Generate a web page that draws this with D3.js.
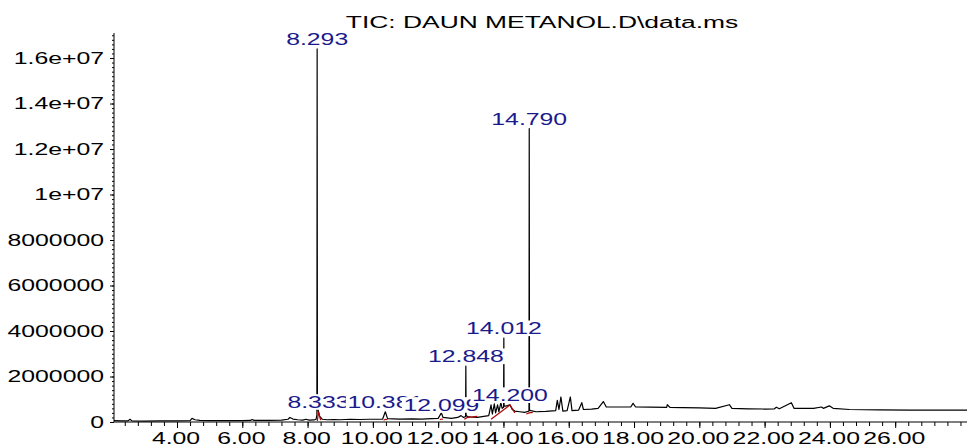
<!DOCTYPE html>
<html>
<head>
<meta charset="utf-8">
<script src="https://cdn.jsdelivr.net/npm/d3@7"></script>
<style>
  body { margin: 0; background: #fff; }
  text { font-family: "Liberation Sans", Arial, sans-serif; }
</style>
</head>
<body>
<script>
// chromatogram trace (retention time in min, abundance)
var times = [2.07, 2.3, 2.5, 2.56, 2.62, 3.0, 3.5, 4.0, 4.4, 4.46, 4.55, 4.7, 5.0, 5.5, 6.0, 6.25, 6.3, 6.36,
  6.8, 7.2, 7.4, 7.46, 7.55, 7.7, 7.85, 7.95, 8.05, 8.2, 8.26, 8.285, 8.293, 8.301, 8.333, 8.37, 8.45, 8.6, 8.8,
  9.0, 9.3, 9.6, 9.9, 10.3, 10.381, 10.45, 10.8, 11.2, 11.5, 11.8, 12.0, 12.099, 12.15, 12.4, 12.6, 12.7,
  12.78, 12.84, 12.848, 12.856, 12.9, 13.0, 13.2, 13.4, 13.55, 13.62, 13.66, 13.72, 13.76, 13.82, 13.86,
  13.92, 13.96, 14.004, 14.012, 14.02, 14.06, 14.12, 14.2, 14.27, 14.35, 14.5, 14.65, 14.74, 14.782, 14.79,
  14.798, 14.84, 15.0, 15.3, 15.6, 15.65, 15.7, 15.76, 15.82, 15.95, 16.05, 16.1, 16.3, 16.4, 16.45, 16.7,
  16.9, 17.06, 17.15, 17.5, 17.9, 17.97, 18.05, 18.5, 19.0, 19.02, 19.1, 19.5, 20.0, 20.5, 20.92, 21.0,
  21.5, 22.0, 22.3, 22.36, 22.45, 22.82, 22.9, 23.5, 23.74, 23.8, 23.98, 24.1, 24.6, 25.5, 26.5, 27.5, 28.2];
var counts = [0.06e6, 0.05e6, 0.05e6, 0.12e6, 0.05e6, 0.04e6, 0.05e6, 0.05e6, 0.06e6, 0.16e6, 0.10e6, 0.07e6,
  0.06e6, 0.06e6, 0.06e6, 0.07e6, 0.11e6, 0.07e6, 0.07e6, 0.08e6, 0.12e6, 0.20e6, 0.13e6, 0.10e6, 0.08e6,
  0.12e6, 0.08e6, 0.09e6, 0.12e6, 0.3e6, 16.4e6, 0.8e6, 0.45e6, 0.25e6, 0.12e6, 0.10e6, 0.11e6, 0.10e6,
  0.12e6, 0.11e6, 0.12e6, 0.13e6, 0.45e6, 0.15e6, 0.13e6, 0.14e6, 0.13e6, 0.15e6, 0.16e6, 0.40e6, 0.20e6,
  0.16e6, 0.20e6, 0.28e6, 0.20e6, 0.24e6, 2.46e6, 0.28e6, 0.24e6, 0.22e6, 0.20e6, 0.25e6, 0.28e6, 0.75e6,
  0.35e6, 0.80e6, 0.40e6, 0.75e6, 0.45e6, 0.85e6, 0.60e6, 0.65e6, 3.69e6, 0.70e6, 0.70e6, 0.72e6, 0.75e6,
  0.55e6, 0.48e6, 0.45e6, 0.42e6, 0.46e6, 0.48e6, 12.9e6, 0.52e6, 0.50e6, 0.45e6, 0.47e6, 0.50e6, 0.95e6,
  0.55e6, 1.1e6, 0.48e6, 0.50e6, 1.1e6, 0.50e6, 0.52e6, 0.85e6, 0.55e6, 0.57e6, 0.60e6, 0.90e6, 0.66e6,
  0.66e6, 0.66e6, 0.82e6, 0.66e6, 0.65e6, 0.64e6, 0.76e6, 0.64e6, 0.63e6, 0.62e6, 0.60e6, 0.76e6, 0.60e6,
  0.58e6, 0.57e6, 0.58e6, 0.65e6, 0.58e6, 0.85e6, 0.60e6, 0.60e6, 0.66e6, 0.60e6, 0.71e6, 0.60e6, 0.55e6,
  0.53e6, 0.52e6, 0.52e6, 0.52e6];

// labelled peaks
var peakTimes = [8.293, 8.333, 10.381, 12.099, 12.848, 14.012, 14.200, 14.790];
var peakLabels = ["8.293", "8.333", "10.381", "12.099", "12.848", "14.012", "14.200", "14.790"];
var peakApex = [16.4e6, 0.45e6, 0.45e6, 0.32e6, 2.46e6, 3.69e6, 0.75e6, 12.9e6];

// integration marks (red), one polyline per peak
var integTimes = [[8.30, 8.333, 8.40], [10.33, 10.381, 10.45], [12.05, 12.099, 12.15],
  [12.80, 12.90, 13.20], [13.62, 14.20, 14.35], [14.70, 14.79, 14.90]];
var integCounts = [[0.05e6, 0.45e6, 0.08e6], [0.08e6, 0.12e6, 0.10e6], [0.10e6, 0.13e6, 0.12e6],
  [0.12e6, 0.20e6, 0.25e6], [0.12e6, 0.75e6, 0.40e6], [0.35e6, 0.40e6, 0.42e6]];

var yTicks = [0, 2e6, 4e6, 6e6, 8e6, 1e7, 1.2e7, 1.4e7, 1.6e7];
var yTickLabels = ["0", "2000000", "4000000", "6000000", "8000000", "1e+07", "1.2e+07", "1.4e+07", "1.6e+07"];
var xLabelTicks = [4, 6, 8, 10, 12, 14, 16, 18, 20, 22, 24, 26];

var title = "TIC: DAUN METANOL.D\\data.ms";

//=======================//
// Set up the SVG canvas //
//=======================//
var width = 967, height = 446;
var stretch = 1.55;   // fonts of the original are drawn wide
var labelColor = "#1a1a8c";
var redColor = "#b00000";

var svg = d3.select("body").append("svg")
  .attr("width", width)
  .attr("height", height);

var x = d3.scaleLinear().domain([2.07, 28.2]).range([114, 967]);
var y = d3.scaleLinear().domain([0, 17.1e6]).range([422, 33]);

function wideText(g, px, py, str, anchor, scale) {
  var t = g.append("g")
    .attr("transform", "translate(" + px + "," + py + ") scale(" + scale + ",1)");
  t.append("text")
    .attr("text-anchor", anchor)
    .style("font-size", "16px")
    .text(str);
  return t;
}

// title
wideText(svg, 542, 28, title, "middle", 1.65);

//=============//
// Axes        //
//=============//
var yMinor = d3.range(0, 17.0e6 + 1, 0.2e6);
svg.append("g").attr("transform", "translate(114,0)")
  .call(d3.axisLeft(y).tickValues(yMinor).tickSize(2).tickFormat(""))
  .call(function(g) { g.select(".domain").attr("d", "M0," + y(0) + "V33"); });
svg.append("g").attr("transform", "translate(114,0)")
  .call(d3.axisLeft(y).tickValues(yTicks).tickSize(4).tickFormat(""))
  .select(".domain").remove();
yTicks.forEach(function(v, i) {
  wideText(svg, 104, y(v) + 5.5, yTickLabels[i], "end", stretch);
});

var xMinor = d3.range(2.4, 28.01, 0.4);
svg.append("g").attr("transform", "translate(0,422)")
  .call(d3.axisBottom(x).tickValues(xMinor).tickSize(4).tickFormat(""))
  .call(function(g) { g.select(".domain").attr("d", "M114,0H967"); });
svg.append("g").attr("transform", "translate(0,422)")
  .call(d3.axisBottom(x).tickValues(xLabelTicks).tickSize(6).tickFormat(""))
  .select(".domain").remove();
xLabelTicks.forEach(function(v) {
  wideText(svg, x(v) - 1, 444, v.toFixed(2), "middle", stretch);
});
svg.selectAll(".tick line").attr("stroke", "#000");

//==================//
// Draw the trace   //
//==================//
var line = d3.line()
  .x(function(d) { return x(d[0]); })
  .y(function(d) { return y(d[1]); });

svg.append("path")
  .datum(d3.zip(times, counts))
  .attr("d", line)
  .attr("fill", "none")
  .attr("stroke", "#000")
  .attr("stroke-width", 1.2)
  .attr("stroke-linejoin", "round");

integTimes.forEach(function(ts, i) {
  svg.append("path")
    .datum(d3.zip(ts, integCounts[i]))
    .attr("d", line)
    .attr("fill", "none")
    .attr("stroke", redColor)
    .attr("stroke-width", 1.2);
});

// peak labels with white boxes, later ones covering earlier ones
peakTimes.forEach(function(t, i) {
  var g = wideText(svg, x(t), y(peakApex[i]) - 4, peakLabels[i], "middle", stretch);
  var txt = g.select("text").attr("fill", labelColor);
  var bb = txt.node().getBBox();
  g.insert("rect", "text")
    .attr("x", bb.x - 1)
    .attr("y", bb.y + 1)
    .attr("width", bb.width + 2)
    .attr("height", bb.height - 2)
    .attr("fill", "#fff");
});
</script>
</body>
</html>
